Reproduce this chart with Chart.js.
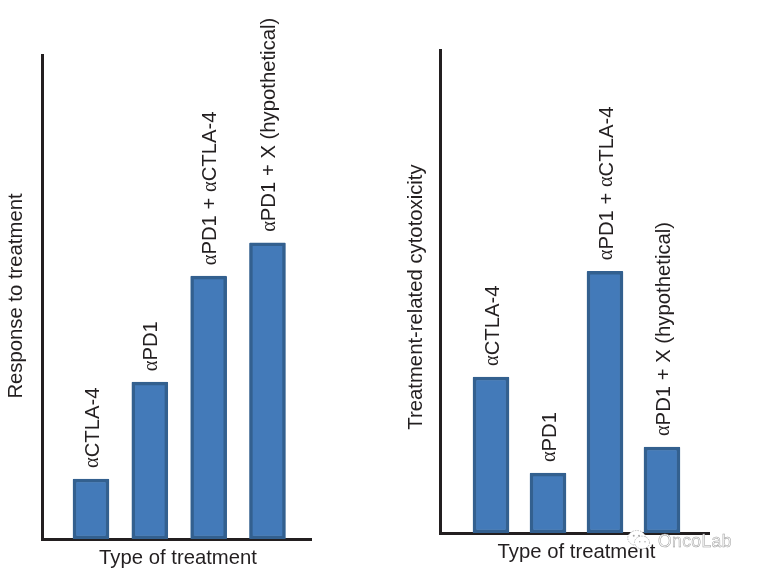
<!DOCTYPE html>
<html>
<head>
<meta charset="utf-8">
<script src="https://cdn.jsdelivr.net/npm/chart.js@4"></script>
<style>
  html, body { margin: 0; padding: 0; background: #fff; }
  body { width: 757px; height: 572px; overflow: hidden; position: relative; }
  canvas { position: absolute; top: 0; }
  #left-chart { left: 0; }
  #right-chart { left: 378px; }
  #mark { position: absolute; left: 626px; top: 529px; }
  #mark-text {
    position: absolute; left: 658px; top: 531px;
    font: 17.5px "Liberation Sans", sans-serif; letter-spacing: 0.4px;
    color: #fff; -webkit-text-stroke: 0.5px #9a9a9a;
  }
</style>
</head>
<body>
<canvas id="left-chart" width="378" height="572"></canvas>
<canvas id="right-chart" width="379" height="572"></canvas>
<svg id="mark" width="26" height="21" viewBox="0 0 34 28">
  <ellipse cx="14" cy="12" rx="12" ry="10" fill="#fff" stroke="#a8a8a8" stroke-width="1" stroke-dasharray="2 1.5"/>
  <ellipse cx="21" cy="18" rx="10" ry="8.5" fill="#fff" stroke="#a8a8a8" stroke-width="1" stroke-dasharray="2 1.5"/>
  <circle cx="10" cy="9" r="1.3" fill="#a8a8a8"/>
  <circle cx="17" cy="9" r="1.3" fill="#a8a8a8"/>
  <circle cx="18" cy="17" r="1" fill="#a8a8a8"/>
  <circle cx="25" cy="17" r="1" fill="#a8a8a8"/>
</svg>
<div id="mark-text">OncoLab</div>
<script>
const leftCategories = ['αCTLA-4', 'αPD1', 'αPD1 + αCTLA-4', 'αPD1 + X (hypothetical)'];
const leftValues = [12.4, 32.4, 54.3, 61.2];
const rightCategories = ['αCTLA-4', 'αPD1', 'αPD1 + αCTLA-4', 'αPD1 + X (hypothetical)'];
const rightValues = [32.3, 12.4, 54.2, 17.8];

const textColor = '#231f20';
const barFill = '#437ab9';
const barEdge = '#33608f';
const fontSize = 20.3;
const sansFont = '"Liberation Sans", Arial, sans-serif';
const alphaFont = '"Liberation Serif", serif';

// rotated labels above the bars, alpha is set in a serif face like the original
const barLabels = {
  id: 'barLabels',
  afterDatasetsDraw(chart) {
    const ctx = chart.ctx;
    const bars = chart.getDatasetMeta(0).data;
    ctx.save();
    ctx.fillStyle = textColor;
    ctx.textBaseline = 'middle';
    ctx.textAlign = 'left';
    bars.forEach(function (bar, i) {
      ctx.save();
      ctx.translate(bar.x + 2, bar.y - 11);
      ctx.rotate(-Math.PI / 2);
      let pos = 0;
      chart.data.labels[i].split(/(α)/).forEach(function (part) {
        if (!part) return;
        ctx.font = fontSize + 'px ' + (part === 'α' ? alphaFont : sansFont);
        ctx.fillText(part, pos, 0);
        pos += ctx.measureText(part).width;
      });
      ctx.restore();
    });
    ctx.restore();
  }
};

// axis titles sit off the axis centres in the original, so they are placed by hand
function axisTitles(yTitle, box) {
  return {
    id: 'axisTitles',
    afterDraw(chart) {
      const ctx = chart.ctx;
      ctx.save();
      ctx.fillStyle = textColor;
      ctx.font = fontSize + 'px ' + sansFont;
      ctx.textAlign = 'center';
      ctx.textBaseline = 'middle';
      ctx.fillText('Type of treatment', box.xTitleX, box.xTitleY);
      ctx.translate(box.yTitleX, box.yTitleY);
      ctx.rotate(-Math.PI / 2);
      ctx.fillText(yTitle, 0, 0);
      ctx.restore();
    }
  };
}

function makeChart(id, categories, values, yTitle, box) {
  return new Chart(document.getElementById(id), {
    type: 'bar',
    data: {
      labels: categories,
      datasets: [{
        data: values.map(function (v, i) { return { x: i + 1, y: v }; }),
        backgroundColor: barFill,
        borderColor: barEdge,
        borderWidth: 3.5,
        borderSkipped: false,
        borderRadius: 1,
        barThickness: 36
      }]
    },
    options: {
      responsive: false,
      animation: false,
      events: [],
      layout: { padding: { top: box.top, right: box.right, left: 0, bottom: 0 } },
      plugins: { legend: { display: false }, tooltip: { enabled: false } },
      scales: {
        x: {
          type: 'linear',
          offset: false,
          min: box.xMin,
          max: box.xMax,
          grid: { display: false },
          ticks: { display: false },
          border: { color: textColor, width: 3 },
          afterFit(scale) { scale.height = 572 - box.bottom; }
        },
        y: {
          min: 0,
          max: 100,
          grid: { display: false },
          ticks: { display: false },
          border: { color: textColor, width: 3 },
          afterFit(scale) { scale.width = box.left; }
        }
      }
    },
    plugins: [barLabels, axisTitles(yTitle, box)]
  });
}

makeChart('left-chart', leftCategories, leftValues, 'Response to treatment',
  { left: 42, top: 55, bottom: 539, right: 67, xMin: 0.167, xMax: 4.74,
    xTitleX: 178, xTitleY: 558, yTitleX: 16, yTitleY: 296 });
makeChart('right-chart', rightCategories, rightValues, 'Treatment-related cytotoxicity',
  { left: 62, top: 50, bottom: 533, right: 48, xMin: 0.105, xMax: 4.825,
    xTitleX: 198.5, xTitleY: 552, yTitleX: 38, yTitleY: 297 });
</script>
</body>
</html>
